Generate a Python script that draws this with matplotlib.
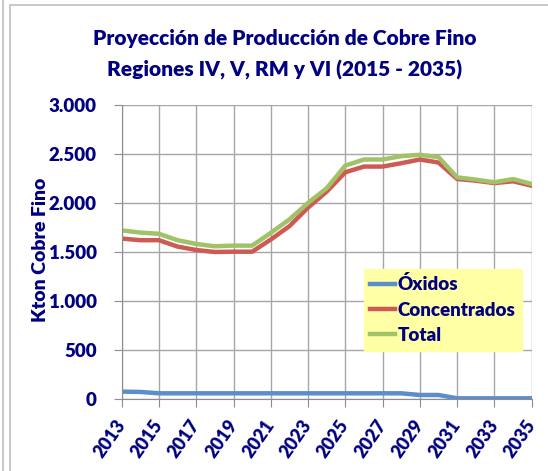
import matplotlib
matplotlib.use("Agg")
import matplotlib.pyplot as plt
from matplotlib.patches import Rectangle
from matplotlib.lines import Line2D
from matplotlib.ticker import FuncFormatter

years = list(range(2013, 2036))
oxidos = [78, 75, 61, 61, 61, 61, 61, 61, 61, 61, 61, 61, 61, 61, 61, 61,
          44, 44, 10, 10, 10, 10, 10]
concentrados = [1637, 1620, 1620, 1555, 1520, 1500, 1503, 1503, 1627, 1763,
                1952, 2115, 2312, 2370, 2370, 2404, 2442, 2411, 2243, 2226,
                2202, 2220, 2175]
total = [1720, 1698, 1685, 1620, 1582, 1558, 1565, 1565, 1695, 1832,
         2000, 2150, 2380, 2442, 2442, 2476, 2490, 2466, 2260, 2237,
         2210, 2243, 2192]
series_names = ["Óxidos", "Concentrados", "Total"]
title_lines = ["Proyección de Producción de Cobre Fino",
               "Regiones IV, V, RM y VI (2015 - 2035)"]
ylabel = "Kton Cobre Fino"

navy = "#000080"
colors = ["#5B8FCB", "#CD5B55", "#A1C266"]
font = "Lato"
wt = "heavy"

W, H = 548, 471
fig = plt.figure(figsize=(W / 100, H / 100), dpi=100)

# chart frame
fig.add_artist(Line2D([3 / W, 3 / W], [0, 1], color="#BFBFBF", lw=1.2,
                      transform=fig.transFigure))
fig.add_artist(Rectangle((10 / W, -0.1), 2, (1 - 5 / H) + 0.1,
                         transform=fig.transFigure, fill=False,
                         edgecolor="#BFBFBF", lw=1.2))

ax = fig.add_axes([121.7 / W, 1 - 399.3 / H, 410 / W, 294.6 / H])
for vals, c, name in zip([oxidos, concentrados, total], colors, series_names):
    ax.plot(years, vals, color=c, lw=3.2, label=name, solid_joinstyle="round")

ax.set_xlim(2013, 2035)
ax.set_ylim(0, 3000)
ax.set_xticks(range(2013, 2036, 2))
ax.set_yticks(range(0, 3001, 500))
ax.yaxis.set_major_formatter(FuncFormatter(lambda v, p: f"{int(v):,}".replace(",", ".")))
ax.grid(True, color="#A6A6A6", lw=1.0)
ax.set_axisbelow(True)
for s in ["top", "right"]:
    ax.spines[s].set_visible(False)
for s in ["left", "bottom"]:
    ax.spines[s].set_color("#8C8C8C")
ax.tick_params(axis="both", colors="#8C8C8C", length=6, labelcolor=navy)
ax.tick_params(axis="y", pad=12)
ax.tick_params(axis="x", pad=10)
for lab in ax.get_yticklabels():
    lab.set_fontfamily(font)
    lab.set_fontweight(wt)
    lab.set_fontsize(13.5)
for lab in ax.get_xticklabels():
    lab.set_fontfamily(font)
    lab.set_fontweight(wt)
    lab.set_fontsize(13)
    lab.set_rotation(55)
    lab.set_ha("right")
    lab.set_va("center")
    lab.set_rotation_mode("anchor")

fig.text(40 / W, 1 - 250 / H, ylabel, rotation=90, ha="center", va="center",
         color=navy, fontsize=14, fontweight=wt, family=font)
fig.text(285 / W, 1 - 38 / H, title_lines[0], ha="center", va="center",
         color=navy, fontsize=15, fontweight=wt, family=font)
fig.text(285 / W, 1 - 70 / H, title_lines[1], ha="center", va="center",
         color=navy, fontsize=15, fontweight=wt, family=font)

leg = ax.legend(loc="upper left", bbox_to_anchor=((363.5 - 121.7) / 410, (399.3 - 268.5) / 294.6),
                frameon=True, fancybox=False, handlelength=1.35, handletextpad=0.1,
                borderpad=0.35, labelspacing=0.45, borderaxespad=0,
                prop={"family": font, "weight": wt, "size": 13.5})
leg.get_frame().set_facecolor("#FFFFA6")
leg.get_frame().set_edgecolor("#FFFFA6")
leg.get_frame().set_alpha(1)
for t in leg.get_texts():
    t.set_color(navy)

fig.savefig("out.png", dpi=100)
